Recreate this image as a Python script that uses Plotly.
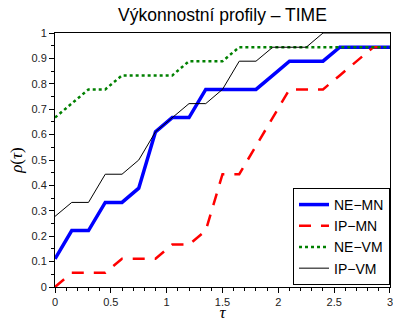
import plotly.graph_objects as go

tau = [0.0, 0.15, 0.3, 0.45, 0.6, 0.75, 0.9, 1.05, 1.2, 1.35, 1.5, 1.65, 1.8, 1.95,
       2.1, 2.25, 2.4, 2.55, 2.7, 2.85, 3.0]

ne_mn = [0.111, 0.222, 0.222, 0.333, 0.333, 0.389, 0.611, 0.667, 0.667, 0.778, 0.778,
         0.778, 0.778, 0.833, 0.889, 0.889, 0.889, 0.944, 0.944, 0.944, 0.944]
ip_mn = [0.0, 0.056, 0.056, 0.056, 0.111, 0.111, 0.111, 0.167, 0.167, 0.222, 0.444,
         0.444, 0.556, 0.667, 0.778, 0.778, 0.778, 0.833, 0.889, 0.944, 0.944]
ne_vm = [0.667, 0.722, 0.778, 0.778, 0.833, 0.833, 0.833, 0.833, 0.889, 0.889, 0.889,
         0.944, 0.944, 0.944, 0.944, 0.944, 0.944, 0.944, 0.944, 0.944, 0.944]
ip_vm = [0.278, 0.333, 0.333, 0.444, 0.444, 0.5, 0.611, 0.667, 0.722, 0.722, 0.778,
         0.889, 0.889, 0.944, 0.944, 0.944, 1.0, 1.0, 1.0, 1.0, 1.0]

x_ticks = [0, 0.5, 1, 1.5, 2, 2.5, 3]
x_ticklabels = ["0", "0.5", "1", "1.5", "2", "2.5", "3"]

names = ["NE\u2212MN", "IP\u2212MN", "NE\u2212VM", "IP\u2212VM"]
title = "Výkonnostní profily \u2013 TIME"

FONT = "Liberation Sans, Arial, sans-serif"
TICKFONT = dict(family=FONT, size=11, color="#222")

fig = go.Figure()
fig.add_trace(go.Scatter(x=tau, y=ne_mn, mode="lines", name=names[0],
                         line=dict(color="#0000ff", width=3.5)))
fig.add_trace(go.Scatter(x=tau, y=ip_mn, mode="lines", name=names[1],
                         line=dict(color="#ff0000", width=2.5, dash="12px,10px")))
fig.add_trace(go.Scatter(x=tau, y=ne_vm, mode="lines", name=names[2],
                         line=dict(color="#008000", width=2.5, dash="3px,3px")))
fig.add_trace(go.Scatter(x=tau, y=ip_vm, mode="lines", name=names[3],
                         line=dict(color="#000000", width=1)))

axis_common = dict(showline=True, linecolor="black", linewidth=1, mirror=True,
                   showgrid=False, zeroline=False, ticks="outside", ticklen=5,
                   tickcolor="black", automargin=False, ticklabeloverflow="allow",
                   tickfont=TICKFONT)

fig.update_xaxes(range=[0, 3.0001], tickmode="array", tickvals=x_ticks, ticktext=x_ticklabels,
                 minor=dict(dtick=0.1, tick0=0, ticks="outside", ticklen=3, tickcolor="black"),
                 title=dict(text="<i>τ</i>", font=dict(family="Liberation Serif, serif", size=17, color="black"),
                            standoff=2),
                 **axis_common)
fig.update_yaxes(range=[0, 1], dtick=0.1, tick0=0,
                 minor=dict(dtick=0.05, ticks="outside", ticklen=3, tickcolor="black"),
                 title=dict(text="<i>ρ</i>(<i>τ</i>)", font=dict(family="Liberation Serif, serif", size=17, color="black"),
                            standoff=4),
                 **axis_common)

fig.update_layout(
    width=393, height=322,
    margin=dict(l=55, r=3, t=33, b=35),
    paper_bgcolor="white", plot_bgcolor="white",
    title=dict(text=title, x=0.566, xanchor="center", y=0.953, yanchor="middle",
               font=dict(family=FONT, size=17.5, color="black")),
    showlegend=True,
    legend=dict(x=1.0, y=0.008, xanchor="right", yanchor="bottom",
                bgcolor="white", bordercolor="black", borderwidth=1,
                font=dict(family=FONT, size=14, color="black"),
                itemwidth=30, tracegroupgap=0),
)

fig.write_html(
    "out.html",
    config={"displayModeBar": False, "staticPlot": True},
    post_script="document.body.style.margin='0';document.documentElement.style.overflow='hidden';",
)
